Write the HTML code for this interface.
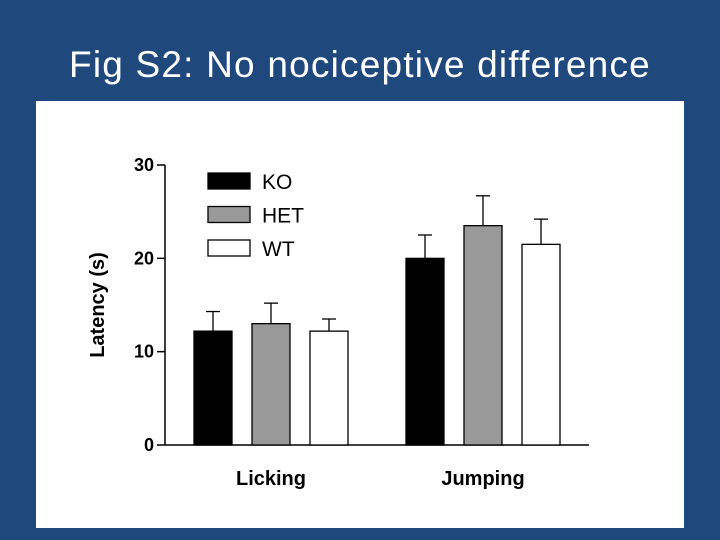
<!DOCTYPE html>
<html><head><meta charset="utf-8"><style>
body{margin:0;width:720px;height:540px;background:#1F497D;overflow:hidden;font-family:"Liberation Sans",sans-serif}
#title{position:absolute;left:0;width:720px;top:44px;text-align:center;color:#fff;font-size:37px;letter-spacing:1.2px}
svg{position:absolute;left:0;top:0}
</style></head><body>
<div id="title">Fig S2: No nociceptive difference</div>
<svg id="c" width="720" height="540">
<rect x="36" y="101" width="648" height="427" fill="#fff"/>
</svg>
<script>
const categories=["Licking","Jumping"];
const groups=["KO","HET","WT"];
const colors=["#000","#999","#fff"];
const koValues=[12.2,20.0];
const hetValues=[13.0,23.5];
const wtValues=[12.2,21.5];
const koErr=[2.1,2.5];
const hetErr=[2.2,3.2];
const wtErr=[1.3,2.7];
const yTicks=[0,10,20,30];
const series=[koValues,hetValues,wtValues];
const errs=[koErr,hetErr,wtErr];
const svg=document.getElementById('c');
const NS="http://www.w3.org/2000/svg";
const y=v=>445-v*(280/30);
const groupStart=[194,406];
const bw=38,step=58;
function mk(t,a,p){const e=document.createElementNS(NS,t);for(const k in a)e.setAttribute(k,a[k]);(p||svg).appendChild(e);return e;}
let ax=mk('line',{x1:165,y1:y(30),x2:165,y2:445,stroke:'#000','stroke-width':1.5});


let xa=mk('line',{x1:165,y1:445,x2:589,y2:445,stroke:'#000','stroke-width':1.5});


yTicks.forEach(t=>{
 mk('line',{x1:157,x2:165,y1:y(t),y2:y(t),stroke:'#000','stroke-width':1.5});
 const tx=mk('text',{x:154,y:y(t)+6,'text-anchor':'end','font-size':18,'font-weight':'bold'});
 tx.textContent=t;
 
 
});
const yt=mk('text',{transform:'translate(104,305) rotate(-90)','text-anchor':'middle','font-size':20,'font-weight':'bold'});
yt.textContent='Latency  (s)';


categories.forEach((c,i)=>{
 series.forEach((s,g)=>{
  const x=groupStart[i]+g*step;
  const top=y(s[i]+errs[g][i]);
  mk('line',{x1:x+bw/2,x2:x+bw/2,y1:y(s[i]),y2:top,stroke:'#000','stroke-width':1.3});
  mk('line',{x1:x+bw/2-7,x2:x+bw/2+7,y1:top,y2:top,stroke:'#000','stroke-width':1.3});
  const r=mk('rect',{x:x,y:y(s[i]),width:bw,height:445-y(s[i]),fill:colors[g],stroke:'#000','stroke-width':1.3});
  
  
 });
 const lt=mk('text',{x:groupStart[i]+step+bw/2,y:485,'text-anchor':'middle','font-size':20,'font-weight':'bold'});
 lt.textContent=c;
 
 
});
groups.forEach((g,k)=>{
 const yy=173+k*33.5;
 const lr=mk('rect',{x:208,y:yy,width:42,height:16,fill:colors[k],stroke:'#000','stroke-width':1.3});
 
 
 const lt=mk('text',{x:262,y:yy+16,'font-size':21});
 lt.textContent=g;
 
 
});
</script>
</body></html>
